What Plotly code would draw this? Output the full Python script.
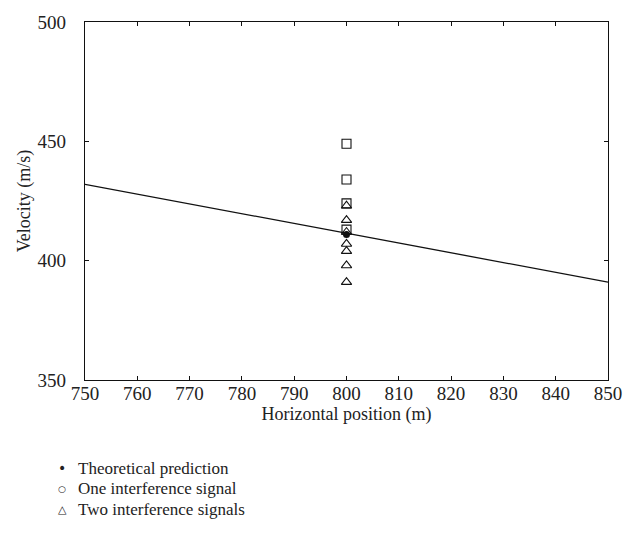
import plotly.graph_objects as go

# Theoretical velocity profile along the horizontal position
line_x = [750, 850]
line_y = [432, 391]

# Measurements at the 800 m station
pred_x = [800]
pred_y = [411]

square_x = [800, 800, 800, 800]
square_y = [449, 434, 424, 413]

tri_x = [800, 800, 800, 800, 800, 800, 800]
tri_y = [423, 417, 412, 407, 404, 398, 391]

legend_items = ["Theoretical prediction", "One interference signal", "Two interference signals"]
legend_marks = ["\u2022", "\u25CB", "\u25B3"]
legend_sizes = [14, 9, 11]

FONT = "Liberation Serif"
TXT = "#222"

fig = go.Figure()
fig.add_trace(go.Scatter(x=line_x, y=line_y, mode="lines",
                         line=dict(color="#111", width=1.3), showlegend=False))
fig.add_trace(go.Scatter(x=square_x, y=square_y, mode="markers",
                         marker=dict(symbol="square-open", size=9, color="#111",
                                     line=dict(width=1.1)), showlegend=False))
fig.add_trace(go.Scatter(x=tri_x, y=tri_y, mode="markers",
                         marker=dict(symbol="triangle-up-open", size=9, color="#111",
                                     line=dict(width=1.1)), showlegend=False))
fig.add_trace(go.Scatter(x=pred_x, y=pred_y, mode="markers",
                         marker=dict(symbol="circle", size=7, color="#111"), showlegend=False))

axis_common = dict(showline=True, linecolor="#111", linewidth=1.3, mirror="ticks",
                   ticks="inside", ticklen=4, tickwidth=1, tickcolor="#111",
                   showgrid=False, zeroline=False,
                   tickfont=dict(family=FONT, size=19, color=TXT))

fig.update_xaxes(range=[750, 850], dtick=10, tick0=750, ticklabelstandoff=-4,
                 title=dict(text="Horizontal position (m)", font=dict(family=FONT, size=18, color=TXT),
                            standoff=2),
                 **axis_common)
fig.update_yaxes(range=[350, 500], dtick=50, tick0=350, ticklabelstandoff=14,
                 title=dict(text="Velocity (m/s)", font=dict(family=FONT, size=18, color=TXT),
                            standoff=2),
                 **axis_common)

annotations = []
for i, (mark, size, label) in enumerate(zip(legend_marks, legend_sizes, legend_items)):
    y_px = 469 + i * 21
    y_paper = (537 - 157 - y_px) / 362
    annotations.append(dict(xref="paper", yref="paper", x=(62 - 85) / 523, y=y_paper,
                            text=mark, showarrow=False, xanchor="center", yanchor="middle",
                            font=dict(family="DejaVu Sans", size=size, color=TXT)))
    annotations.append(dict(xref="paper", yref="paper", x=(76 - 85) / 523, y=y_paper,
                            text=label, showarrow=False, xanchor="left", yanchor="middle",
                            font=dict(family=FONT, size=17, color=TXT)))

fig.update_layout(width=639, height=537, margin=dict(l=85, r=31, t=18, b=157),
                  plot_bgcolor="white", paper_bgcolor="white",
                  annotations=annotations)

fig.write_html("out.html")
